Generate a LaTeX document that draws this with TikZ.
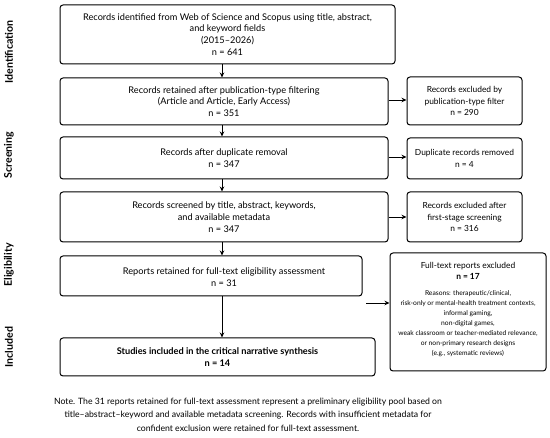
\documentclass[tikz,border=0pt]{standalone}
\usepackage{fontspec}
\setmainfont{Lato}
\usetikzlibrary{arrows.meta}
\tikzset{
  box/.style={draw, line width=1pt, rounded corners=3pt, inner sep=0pt},
  main/.style={font=\fontsize{9.2}{11.8}\selectfont, align=center},
  side/.style={font=\fontsize{8.4}{11.5}\selectfont, align=center},
  small/.style={font=\fontsize{6.7}{10}\selectfont, align=center},
  arr/.style={-{Stealth[length=5pt,width=4.5pt]}, line width=0.8pt},
  stage/.style={font=\fontsize{10.6}{12}\selectfont\bfseries, rotate=90},
  note/.style={font=\fontsize{8.7}{13.5}\selectfont, align=center}
}
\begin{document}
\begin{tikzpicture}[x=1pt,y=-1pt]
\useasboundingbox (0,0) rectangle (550,438);
\coordinate (ax) at (222,0);

% stage labels
\node[stage] (s1) at (9,52) {Identification};
\node[stage] (s2) at (9,155) {Screening};
\node[stage] (s3) at (9,265) {Eligibility};
\node[stage] (s4) at (9,347) {Included};

% main boxes
\node[box, minimum width=335pt, minimum height=59pt, main] (b1) at (227.5,34.5)
  {Records identified from Web of Science and Scopus using title, abstract,\\and keyword fields\\(2015–2026)\\n = 641};
\node[box, minimum width=328pt, minimum height=47pt, main] (b2) at (224,101.5)
  {Records retained after publication-type filtering\\(Article and Article, Early Access)\\n = 351};
\node[box, minimum width=328pt, minimum height=42pt, main] (b3) at (224,158)
  {Records after duplicate removal\\n = 347};
\node[box, minimum width=328pt, minimum height=50pt, main] (b4) at (224,217)
  {Records screened by title, abstract, keywords,\\and available metadata\\n = 347};
\node[box, minimum width=302pt, minimum height=40pt] (b5) at (211,276) {};
\node[main] (t5) at (224,277) {Reports retained for full-text eligibility assessment\\n = 31};
\node[box, minimum width=315pt, minimum height=38pt, main] (b6) at (217.5,357)
  {\bfseries Studies included in the critical narrative synthesis\\\bfseries n = 14};

% side boxes
\node[box, minimum width=115pt, minimum height=48pt, side] (e1) at (464.5,101)
  {Records excluded by\\publication-type filter\\n = 290};
\node[box, minimum width=115pt, minimum height=41pt, side] (e2) at (464.5,158.5)
  {Duplicate records removed\\n = 4};
\node[box, minimum width=115pt, minimum height=50pt, side] (e3) at (464.5,217)
  {Records excluded after\\first-stage screening\\n = 316};
\node[box, minimum width=156pt, minimum height=118pt] (e4) at (468,312) {};
\node[side] (e4a) at (468,271) {Full-text reports excluded\\\bfseries n = 17};
\node[small] (e4b) at (468,323.5) {Reasons: therapeutic/clinical,\\risk-only or mental-health treatment contexts,\\informal gaming,\\non-digital games,\\weak classroom or teacher-mediated relevance,\\or non-primary research designs\\(e.g., systematic reviews)};

% vertical arrows
\draw[arr] (b1.south -| ax) -- (b2.north -| ax);
\draw[arr] (b2.south -| ax) -- (b3.north -| ax);
\draw[arr] (b3.south -| ax) -- (b4.north -| ax);
\draw[arr] (b4.south -| ax) -- (b5.north -| ax);
\draw[arr] (b5.south -| ax) -- (b6.north -| ax);

% horizontal arrows
\draw[arr] (b2.east |- 0,100) -- (e1.west |- 0,100);
\draw[arr] (b3.east |- 0,157) -- (e2.west |- 0,157);
\draw[arr] (b4.east |- 0,217) -- (e3.west |- 0,217);
\coordinate (fx) at (366,303);
\draw[arr] (fx) -- (e4.west |- fx);

% note
\node[note] (nt) at (248,414.5) {Note. The 31 reports retained for full-text assessment represent a preliminary eligibility pool based on\\title–abstract–keyword and available metadata screening. Records with insufficient metadata for\\confident exclusion were retained for full-text assessment.};
\end{tikzpicture}
\end{document}
